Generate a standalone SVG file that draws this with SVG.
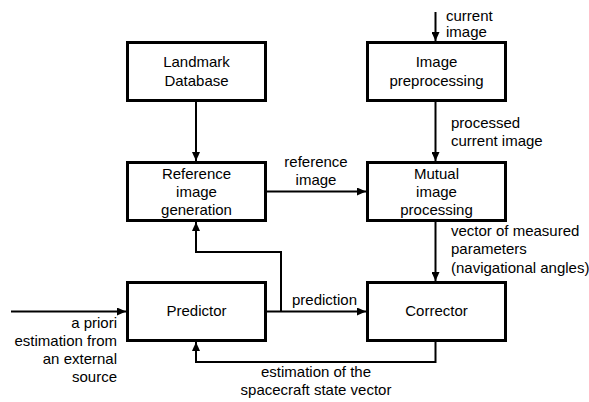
<svg xmlns="http://www.w3.org/2000/svg" width="589" height="402" viewBox="0 0 589 402">
<defs>
<marker id="arr" markerUnits="userSpaceOnUse" markerWidth="9" markerHeight="8" refX="9" refY="4" orient="auto">
<path d="M0,0 L9,4 L0,8 z" fill="#000"/>
</marker>
<style>
.box{fill:#fff;stroke:#000;stroke-width:3}
.t{font-family:"Liberation Sans",Arial,sans-serif;font-size:15px;fill:#000}
.c{text-anchor:middle}
.r{text-anchor:end}
.ln{fill:none;stroke:#000;stroke-width:2}
</style>
</defs>
<rect width="589" height="402" fill="#fff"/>
<g id="connectors">
<path class="ln" d="M196 102 V161" marker-end="url(#arr)"/>
<path class="ln" d="M435.5 12 V41" marker-end="url(#arr)"/>
<path class="ln" d="M435.5 102 V161" marker-end="url(#arr)"/>
<path class="ln" d="M267 191.5 H366" marker-end="url(#arr)"/>
<path class="ln" d="M435.5 222 V281" marker-end="url(#arr)"/>
<path class="ln" d="M11 311.5 H126" marker-end="url(#arr)"/>
<path class="ln" d="M267 311.5 H366" marker-end="url(#arr)"/>
<path class="ln" d="M281 311.5 V252 H196 V222" marker-end="url(#arr)"/>
<path class="ln" d="M435.5 342 V362 H196 V342" marker-end="url(#arr)"/>
<text class="t" x="446" y="20.5">current</text>
<text class="t" x="446" y="36.5">image</text>
<text class="t" x="451" y="128">processed</text>
<text class="t" x="451" y="146">current image</text>
<text class="t c" x="316" y="166.5">reference</text>
<text class="t c" x="316" y="184.5">image</text>
<text class="t" x="451" y="236">vector of measured</text>
<text class="t" x="451" y="254">parameters</text>
<text class="t" x="451" y="272.5">(navigational angles)</text>
<text class="t" x="292" y="305">prediction</text>
<text class="t r" x="117" y="328">a priori</text>
<text class="t r" x="117" y="346">estimation from</text>
<text class="t r" x="117" y="364">an external</text>
<text class="t r" x="117" y="382">source</text>
<text class="t c" x="316" y="376.5">estimation of the</text>
<text class="t c" x="316" y="394.5">spacecraft state vector</text>
</g>
<g id="landmark">
<rect class="box" x="127.5" y="42.5" width="138" height="58"/>
<text class="t c" x="196.5" y="67">Landmark</text>
<text class="t c" x="196.5" y="86">Database</text>
</g>
<g id="preprocessing">
<rect class="box" x="367.5" y="42.5" width="138" height="58"/>
<text class="t c" x="436.5" y="67">Image</text>
<text class="t c" x="436.5" y="86">preprocessing</text>
</g>
<g id="refgen">
<rect class="box" x="127.5" y="162.5" width="138" height="58"/>
<text class="t c" x="196.5" y="178.5">Reference</text>
<text class="t c" x="196.5" y="196.5">image</text>
<text class="t c" x="196.5" y="214.5">generation</text>
</g>
<g id="mutual">
<rect class="box" x="367.5" y="162.5" width="138" height="58"/>
<text class="t c" x="436.5" y="178.5">Mutual</text>
<text class="t c" x="436.5" y="196.5">image</text>
<text class="t c" x="436.5" y="214.5">processing</text>
</g>
<g id="predictor">
<rect class="box" x="127.5" y="282.5" width="138" height="58"/>
<text class="t c" x="196.5" y="316">Predictor</text>
</g>
<g id="corrector">
<rect class="box" x="367.5" y="282.5" width="138" height="58"/>
<text class="t c" x="436.5" y="316">Corrector</text>
</g>
</svg>
